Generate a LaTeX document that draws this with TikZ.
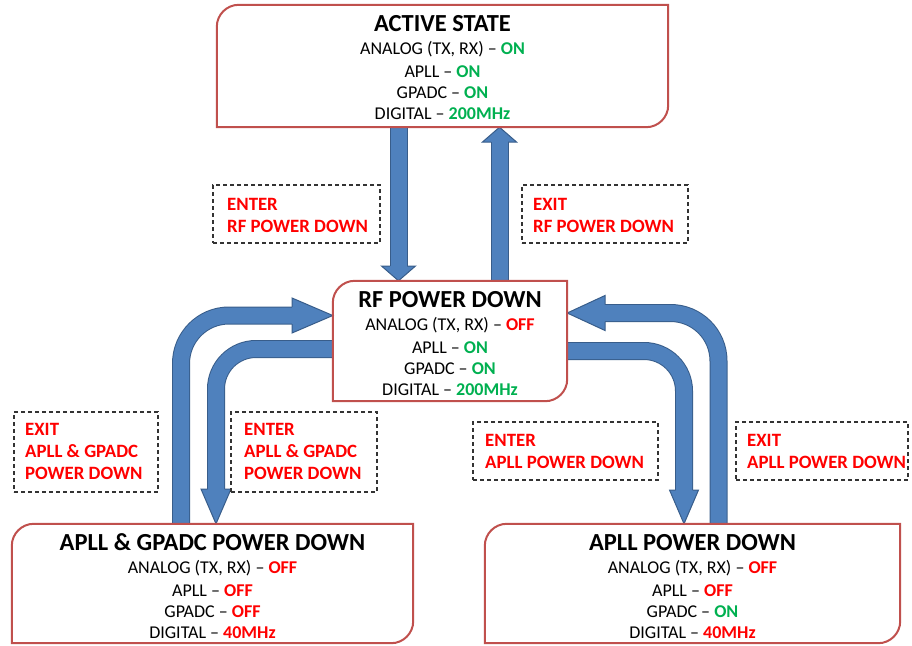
\documentclass[tikz,border=0pt]{standalone}
\usepackage{fontspec}
\setmainfont{Carlito}
\usetikzlibrary{calc}
\definecolor{boxred}{HTML}{C0504D}
\definecolor{arrowfill}{HTML}{4F81BD}
\definecolor{arrowline}{HTML}{385D8A}
\definecolor{txtred}{HTML}{FF0000}
\definecolor{txtgreen}{HTML}{00B050}
\definecolor{dashgray}{HTML}{333333}
\newcommand{\stOn}{\textcolor{txtgreen}{\textbf{ON}}}
\newcommand{\stOff}{\textcolor{txtred}{\textbf{OFF}}}
\newcommand{\stGreen}[1]{\textcolor{txtgreen}{\textbf{#1}}}
\newcommand{\stRed}[1]{\textcolor{txtred}{\textbf{#1}}}
% #1 base coordinate, #2 tip, #3 flange offset, #4 shaft-edge offset
\newcommand{\blockhead}[4]{%
  \fill[arrowfill] ($(#1)+#3$) -- ($(#1)-#3$) -- (#2) -- cycle;
  \draw[headline] ($(#1)+#4$) -- ($(#1)+#3$) -- (#2) -- ($(#1)-#3$) -- ($(#1)-#4$);}
\newcommand{\diagborder}[1]{%
  \draw[boxline] (#1.north east) -- ($(#1.south east)+(0,-22)$)
      .. controls ($(#1.south east)+(0,-9.9)$) and ($(#1.south east)+(-9.9,0)$) .. ($(#1.south east)+(-22,0)$)
    -- (#1.south west) -- ($(#1.north west)+(0,22)$)
      .. controls ($(#1.north west)+(0,9.9)$) and ($(#1.north west)+(9.9,0)$) .. ($(#1.north west)+(22,0)$) -- cycle;}
\begin{document}
\begin{tikzpicture}[x=1pt,y=-1pt,
  shaft/.style={draw=arrowline, line width=1pt, double=arrowfill, double distance=16pt},
  headline/.style={draw=arrowline, line width=1pt, line join=miter},
  boxline/.style={draw=boxred, line width=2pt},
  statebox/.style={rectangle, inner sep=0pt, draw=none},
  lblbox/.style={rectangle, inner sep=0pt, draw=dashgray, line width=1.2pt, dash pattern=on 4pt off 3pt},
  ttl/.style={anchor=base, inner sep=0pt, font=\fontsize{24.5}{28}\selectfont\bfseries},
  body/.style={anchor=base, inner sep=0pt, font=\fontsize{18}{21}\selectfont},
  lbl/.style={anchor=base west, inner sep=0pt, text=txtred, font=\fontsize{18.8}{22}\selectfont\bfseries}]
\useasboundingbox (0,0) rectangle (912,645);

% state boxes (positions)
\node[statebox, minimum width=451pt, minimum height=122pt] (active) at (442.5,66) {};
\node[statebox, minimum width=234pt, minimum height=120pt] (rf) at (450,341) {};
\node[statebox, minimum width=401pt, minimum height=119pt] (agpd) at (212.5,583.5) {};
\node[statebox, minimum width=415pt, minimum height=119pt] (apd) at (692.5,583.5) {};

% arrow 1: active -> rf
\coordinate (b1) at (398.5,266);
\coordinate (t1) at (b1 |- rf.north);
\draw[shaft] (b1 |- active.south) -- (b1);
\blockhead{b1}{t1}{(17,0)}{(8.5,0)}
% arrow 2: rf -> active
\coordinate (b2) at (499.5,142);
\coordinate (t2) at (b2 |- active.south);
\draw[shaft] (b2 |- rf.north) -- (b2);
\blockhead{b2}{t2}{(17,0)}{(8.5,0)}
% arrow 3: agpd -> rf (outer left)
\coordinate (c3) at (181,315.5);
\coordinate (b3) at (292,315.5);
\coordinate (t3) at (b3 -| rf.west);
\draw[shaft, rounded corners=48pt] (c3 |- agpd.north) -- (c3) -- (b3);
\blockhead{b3}{t3}{(0,17.5)}{(0,8.5)}
% arrow 4: rf -> agpd (inner left)
\coordinate (c4) at (216,349);
\coordinate (b4) at (216,489);
\coordinate (t4) at (b4 |- agpd.north);
\draw[shaft, rounded corners=40pt] (rf.west |- c4) -- (c4) -- (b4);
\blockhead{b4}{t4}{(15,0)}{(8.5,0)}
% arrow 5: rf -> apd (inner right)
\coordinate (c5) at (684,351);
\coordinate (b5) at (684,490);
\coordinate (t5) at (b5 |- apd.north);
\draw[shaft, rounded corners=40pt] (rf.east |- c5) -- (c5) -- (b5);
\blockhead{b5}{t5}{(14.5,0)}{(8.5,0)}
% arrow 6: apd -> rf (outer right)
\coordinate (c6) at (718.5,313);
\coordinate (b6) at (605,313);
\coordinate (t6) at (b6 -| rf.east);
\draw[shaft, rounded corners=48pt] (c6 |- apd.north) -- (c6) -- (b6);
\blockhead{b6}{t6}{(0,17.5)}{(0,8.5)}

% borders
\diagborder{active}
\diagborder{rf}
\diagborder{agpd}
\diagborder{apd}

% state texts
\node[ttl] (a0) at (442.5,31) {ACTIVE STATE};
\node[body] (a1) at (442.5,54.5) {ANALOG (TX, RX) – \stOn};
\node[body] (a2) at (442.5,77) {APLL – \stOn};
\node[body] (a3) at (442.5,98) {GPADC – \stOn};
\node[body] (a4) at (442.5,119) {DIGITAL – \stGreen{200MHz}};

\node[ttl] (r0) at (450,307) {RF POWER DOWN};
\node[body] (r1) at (450,330.5) {ANALOG (TX, RX) – \stOff};
\node[body] (r2) at (450,353) {APLL – \stOn};
\node[body] (r3) at (450,374) {GPADC – \stOn};
\node[body] (r4) at (450,395) {DIGITAL – \stGreen{200MHz}};

\node[ttl] (g0) at (212.5,550) {APLL \& GPADC POWER DOWN};
\node[body] (g1) at (212.5,573.5) {ANALOG (TX, RX) – \stOff};
\node[body] (g2) at (212.5,596) {APLL – \stOff};
\node[body] (g3) at (212.5,617) {GPADC – \stOff};
\node[body] (g4) at (212.5,638) {DIGITAL – \stRed{40MHz}};

\node[ttl] (p0) at (692.5,550) {APLL POWER DOWN};
\node[body] (p1) at (692.5,573.5) {ANALOG (TX, RX) – \stOff};
\node[body] (p2) at (692.5,596) {APLL – \stOff};
\node[body] (p3) at (692.5,617) {GPADC – \stOn};
\node[body] (p4) at (692.5,638) {DIGITAL – \stRed{40MHz}};

% dashed label boxes
\node[lblbox, minimum width=167pt, minimum height=58pt] (le1) at (296.5,214) {};
\node[lblbox, minimum width=166pt, minimum height=58pt] (lx1) at (605,214) {};
\node[lblbox, minimum width=144pt, minimum height=80pt] (lx2) at (86,452) {};
\node[lblbox, minimum width=146pt, minimum height=80pt] (le2) at (304,452) {};
\node[lblbox, minimum width=185pt, minimum height=58pt] (le3) at (565.5,451) {};
\node[lblbox, minimum width=172pt, minimum height=58pt] (lx3) at (822,451) {};

\node[lbl] (le1a) at (227,210) {ENTER};
\node[lbl] (le1b) at (227,232) {RF POWER DOWN};
\node[lbl] (lx1a) at (533,210) {EXIT};
\node[lbl] (lx1b) at (533,232) {RF POWER DOWN};
\node[lbl] (lx2a) at (25,435) {EXIT};
\node[lbl] (lx2b) at (25,457) {APLL \& GPADC};
\node[lbl] (lx2c) at (25,479) {POWER DOWN};
\node[lbl] (le2a) at (244,435) {ENTER};
\node[lbl] (le2b) at (244,457) {APLL \& GPADC};
\node[lbl] (le2c) at (244,479) {POWER DOWN};
\node[lbl] (le3a) at (485,446) {ENTER};
\node[lbl] (le3b) at (485,468) {APLL POWER DOWN};
\node[lbl] (lx3a) at (747,446) {EXIT};
\node[lbl] (lx3b) at (747,468) {APLL POWER DOWN};
\end{tikzpicture}
\end{document}
